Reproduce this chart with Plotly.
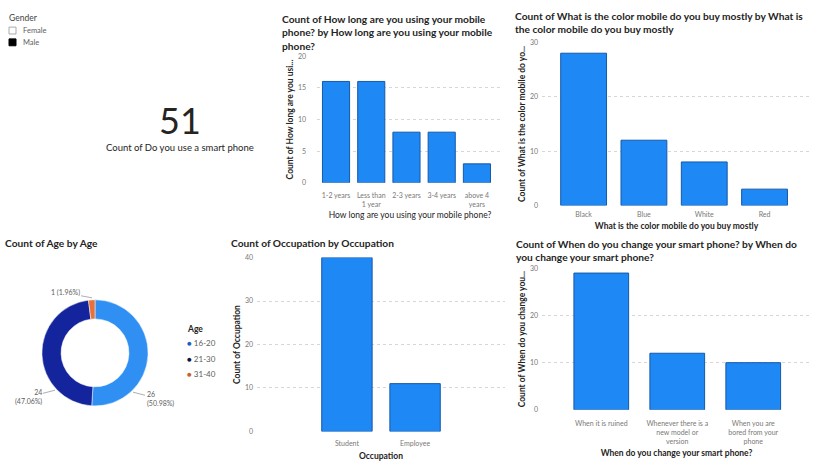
import plotly.graph_objects as go

# ---------------- data ----------------
smart_phone_users = 51
card_label = "Count of Do you use a smart phone"
gender_options = ["Female", "Male"]

usage_duration = ["1-2 years", "Less than 1 year", "2-3 years", "3-4 years", "above 4 years"]
usage_duration_ticks = ["1-2 years", "Less than<br>1 year", "2-3 years", "3-4 years", "above 4<br>years"]
usage_duration_counts = [16, 16, 8, 8, 3]

phone_colors = ["Black", "Blue", "White", "Red"]
phone_color_counts = [28, 12, 8, 3]

age_groups = ["16-20", "21-30", "31-40"]
age_counts = [26, 24, 1]

occupations = ["Student", "Employee"]
occupation_counts = [40, 11]

change_reasons = ["When it is ruined", "Whenever there is a new model or version",
                  "When you are bored from your phone"]
change_ticks = ["When it is ruined", "Whenever there is a<br>new model or<br>version",
                "When you are<br>bored from your<br>phone"]
change_counts = [29, 12, 10]

# ---------------- styling helpers ----------------
W, H = 813, 461
def fx(p):
    return p / W
def fy(p):
    return 1 - p / H

FAM = "Lato, Open Sans, sans-serif"
BAR = "#1E88F5"
BAR_EDGE = "#1559A8"
TITLE_FONT = dict(family=FAM, size=10.2, color="#252423", weight=700)
TICK_FONT = dict(family=FAM, size=7, color="#7A7876")
AXT_FONT = dict(family=FAM, size=8.5, color="#252423")
AXT_BOLD = dict(family=FAM, size=8.5, color="#252423", weight=700)
AGE_COLORS = ["#2F8FF2", "#14249C", "#E8703A"]
AGE_LEGEND_COLORS = ["#1F5FC0", "#0E1440", "#C8602F"]

fig = go.Figure()

def bar(x, y, xa, ya, width):
    fig.add_trace(go.Bar(x=x, y=y, xaxis=xa, yaxis=ya, width=width,
                         marker=dict(color=BAR, line=dict(color=BAR_EDGE, width=1)),
                         showlegend=False, hoverinfo="x+y"))

bar(usage_duration, usage_duration_counts, "x", "y", 0.77)
bar(phone_colors, phone_color_counts, "x2", "y2", 0.76)
bar(occupations, occupation_counts, "x3", "y3", 0.74)
bar(change_reasons, change_counts, "x4", "y4", 0.72)

fig.add_trace(go.Pie(labels=age_groups, values=age_counts, hole=0.64, sort=False,
                     direction="clockwise", rotation=0, textinfo="none",
                     marker=dict(colors=AGE_COLORS, line=dict(color="white", width=0.5)),
                     domain=dict(x=[fx(41), fx(149)], y=[fy(408), fy(300)]),
                     showlegend=False))

def yaxis(domain, rng, dtick, title, anchor, standoff_lbl, standoff_t):
    return dict(domain=domain, range=rng, dtick=dtick, anchor=anchor,
                showgrid=True, gridcolor="#D6D6D6", griddash="dot", gridwidth=1,
                zeroline=False, showline=False, ticks="", tickfont=TICK_FONT,
                ticklabelstandoff=standoff_lbl,
                title=dict(text=title, font=AXT_BOLD, standoff=standoff_t))

def xaxis(domain, rng, cats, ticks, title, anchor, tfont, standoff_lbl, standoff_t):
    return dict(domain=domain, range=rng, anchor=anchor, type="category",
                tickvals=cats, ticktext=ticks, showgrid=False, zeroline=False,
                showline=False, ticks="", tickfont=TICK_FONT, tickangle=0,
                ticklabelstandoff=standoff_lbl,
                title=dict(text=title, font=tfont, standoff=standoff_t))

layout = dict(
    width=W, height=H, margin=dict(l=0, r=0, t=0, b=0),
    paper_bgcolor="white", plot_bgcolor="white",
    font=dict(family=FAM),
    xaxis=xaxis([fx(317), fx(503)], [-0.54, 4.74], usage_duration, usage_duration_ticks,
                "How long are you using your mobile phone?", "y", AXT_FONT, 7, 5),
    yaxis=yaxis([fy(181), fy(52)], [0, 20], 5, "Count of How long are you usi...", "x", 10, 2),
    xaxis2=xaxis([fx(542), fx(811)], [-0.69, 3.77], phone_colors, phone_colors,
                 "What is the color mobile do you buy mostly", "y2", AXT_BOLD, 4, 5),
    yaxis2=yaxis([fy(204), fy(38)], [0, 30], 10, "Count of What is the color mobile do yo...", "x2", 3, 2),
    xaxis3=xaxis([fx(257), fx(505)], [-1.32, 2.32], occupations, occupations,
                 "Occupation", "y3", AXT_BOLD, 7, 6),
    yaxis3=yaxis([fy(434), fy(257)], [0, 40], 10, "Count of Occupation", "x3", 3, 2),
    xaxis4=xaxis([fx(542), fx(811)], [-0.78, 2.76], change_reasons, change_ticks,
                 "When do you change your smart phone?", "y4", AXT_BOLD, 8, 5),
    yaxis4=yaxis([fy(412), fy(268)], [0, 30], 10, "Count of When do you change you...", "x4", 3, 2),
)
fig.update_layout(**layout)

ann = []
def add_text(text, x, y, font, xa="left", ya="middle", align="left"):
    ann.append(dict(text=text, x=fx(x), y=fy(y), xref="paper", yref="paper",
                    xanchor=xa, yanchor=ya, align=align, showarrow=False, font=font))

add_text("Count of How long are you using your mobile<br>phone? by How long are you using your mobile<br>phone?", 280, 6, TITLE_FONT, ya="top")
add_text("Count of What is the color mobile do you buy mostly by What is<br>the color mobile do you buy mostly", 513, 3, TITLE_FONT, ya="top")
add_text("Count of Age by Age", 3, 234, TITLE_FONT, ya="top")
add_text("Count of Occupation by Occupation", 229, 234, TITLE_FONT, ya="top")
add_text("Count of When do you change your smart phone? by When do<br>you change your smart phone?", 514, 235, TITLE_FONT, ya="top")

# card
add_text(str(smart_phone_users), 180, 117, dict(family=FAM, size=36, color="#252423"), xa="center")
add_text(card_label, 180, 145, dict(family=FAM, size=9.5, color="#252423"), xa="center")

# gender slicer
add_text("Gender", 7, 13, dict(family=FAM, size=8.5, color="#444444"))
shapes = []
for i, g in enumerate(gender_options):
    yc = 26 + 12 * i
    add_text(g, 21, yc, dict(family=FAM, size=7.5, color="#605E5C"))
    shapes.append(dict(type="rect", xref="paper", yref="paper",
                       x0=fx(9), x1=fx(16), y0=fy(yc + 3.5), y1=fy(yc - 3.5),
                       line=dict(color="#AAAAAA" if i == 0 else "black", width=1),
                       fillcolor="white" if i == 0 else "black"))

# donut labels
total_age = sum(age_counts)
lbl_font = dict(family=FAM, size=7, color="#605E5C")
pct = [f"{c/total_age:.2%}" for c in age_counts]
donut_labels = [
    (f"{age_counts[0]}<br>({pct[0]})", 133, 394, 27, 7, "left"),
    (f"{age_counts[1]}<br>({pct[1]})", 55, 392, -27, 7, "right"),
    (f"{age_counts[2]} ({pct[2]})", 92, 298, -27, -5, "center"),
]
for text, x, y, axo, ayo, al in donut_labels:
    ann.append(dict(text=text, x=fx(x), y=fy(y), xref="paper", yref="paper", showarrow=True,
                    arrowhead=0, arrowwidth=0.8, arrowcolor="#999999", ax=axo, ay=ayo,
                    align=al, font=lbl_font))

# age legend
add_text("Age", 185, 330, dict(family=FAM, size=8.5, color="#252423", weight=700))
for i, (g, c) in enumerate(zip(age_groups, AGE_LEGEND_COLORS)):
    add_text(f"<span style='color:{c}'>●</span> {g}", 185, 344 + 16 * i,
             dict(family=FAM, size=8, color="#605E5C"))

fig.update_layout(annotations=ann, shapes=shapes)
fig.write_html("out.html", config={"displayModeBar": False},
               post_script="document.body.style.margin='0';")
